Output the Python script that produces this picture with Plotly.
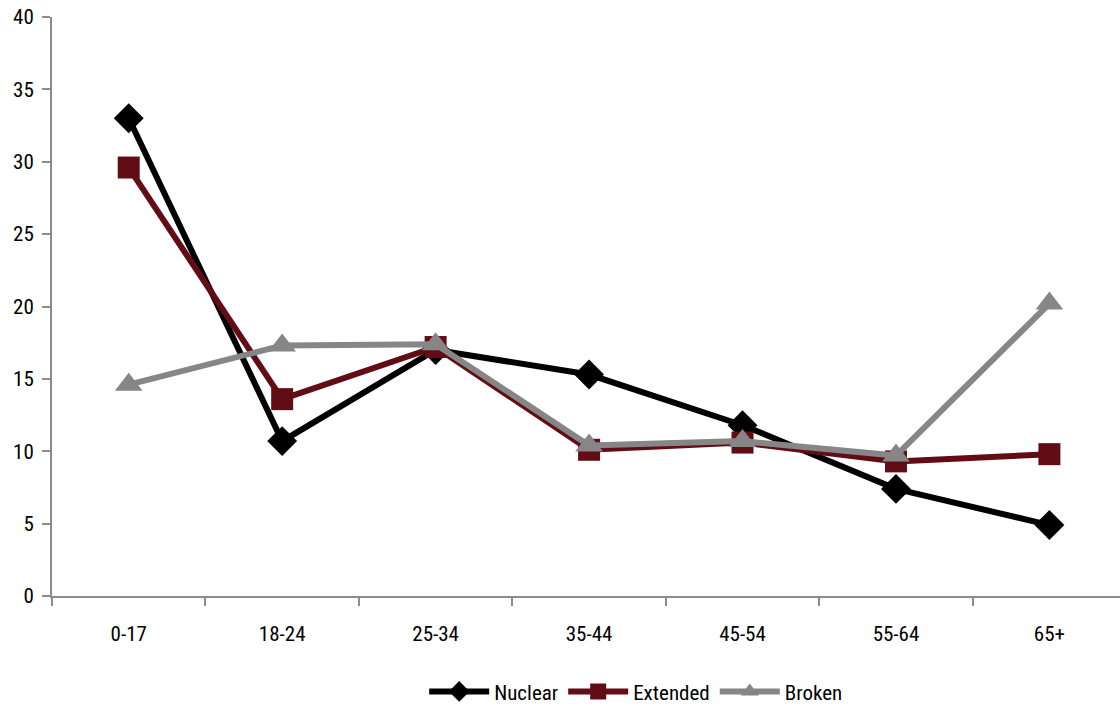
import plotly.graph_objects as go

categories = ["0-17", "18-24", "25-34", "35-44", "45-54", "55-64", "65+"]
nuclear = [33.0, 10.7, 17.0, 15.3, 11.8, 7.4, 4.9]
extended = [29.6, 13.6, 17.2, 10.1, 10.6, 9.3, 9.8]
broken = [14.6, 17.3, 17.4, 10.4, 10.7, 9.7, 20.2]

FONT = "Liberation Sans Narrow, Roboto Condensed, Arial Narrow, sans-serif"

fig = go.Figure()
fig.add_trace(go.Scatter(x=categories, y=nuclear, name="Nuclear", mode="lines+markers",
                         line=dict(color="#000000", width=6),
                         marker=dict(symbol="diamond", size=23, color="#000000")))
fig.add_trace(go.Scatter(x=categories, y=extended, name="Extended", mode="lines+markers",
                         line=dict(color="#620d16", width=6),
                         marker=dict(symbol="square", size=22, color="#620d16")))
fig.add_trace(go.Scatter(x=categories, y=broken, name="Broken", mode="lines+markers",
                         line=dict(color="#868686", width=6),
                         marker=dict(symbol="triangle-up", size=24, color="#868686")))

fig.update_layout(
    width=1120, height=710,
    margin=dict(l=52, r=0, t=17, b=114, autoexpand=False),
    plot_bgcolor="white", paper_bgcolor="white",
    font=dict(family=FONT, size=21, color="#000000"),
    showlegend=True,
    legend=dict(orientation="h", x=0.547, xanchor="center", y=-0.130, yanchor="top",
                font=dict(family=FONT, size=21), itemwidth=60, traceorder="normal"),
    xaxis=dict(type="category", range=[-0.5, 6.46], showline=True, linecolor="#8c8c8c",
               linewidth=2, ticks="outside", tickson="boundaries", ticklen=8,
               tickcolor="#8c8c8c", tickwidth=2, showgrid=False, zeroline=False,
               ticklabelstandoff=18, automargin=False),
    yaxis=dict(range=[0, 40], dtick=5, showline=True, linecolor="#8c8c8c", linewidth=2,
               ticks="outside", ticklen=8, tickcolor="#8c8c8c", tickwidth=2,
               showgrid=False, zeroline=False, ticklabelstandoff=4, automargin=False,
               ticklabeloverflow="allow"),
)

fig.write_html("out.html", config={"displayModeBar": False},
               post_script="document.body.style.margin='0';document.body.style.overflow='hidden';")
